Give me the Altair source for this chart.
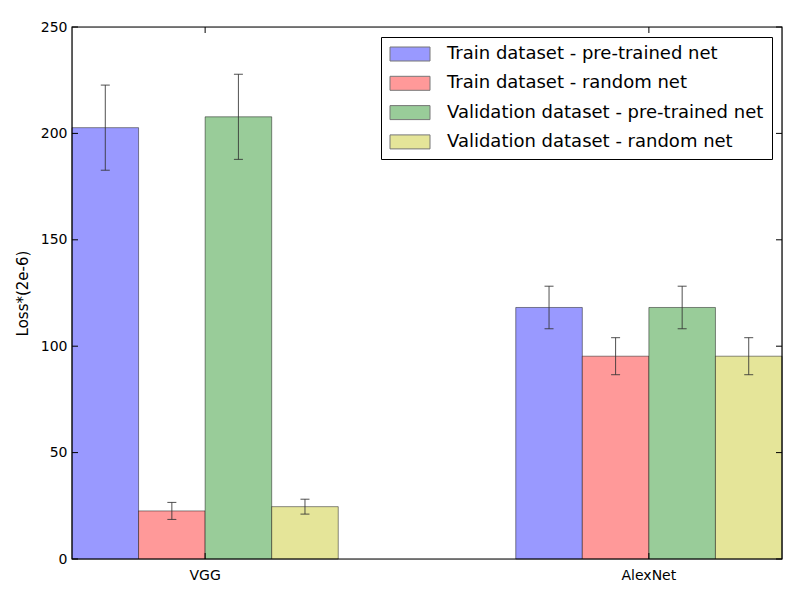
import altair as alt
import pandas as pd

models = ["VGG", "AlexNet"]
series = [
    "Train dataset - pre-trained net",
    "Train dataset - random net",
    "Validation dataset - pre-trained net",
    "Validation dataset - random net",
]
colors = ["#9999ff", "#ff9999", "#99cc99", "#e5e599"]
values = {
    series[0]: [202.7, 118.2],
    series[1]: [22.6, 95.3],
    series[2]: [207.8, 118.2],
    series[3]: [24.6, 95.3],
}
errors = {
    series[0]: [20.0, 10.0],
    series[1]: [4.0, 8.7],
    series[2]: [20.0, 10.0],
    series[3]: [3.5, 8.7],
}
y_ticks = [0, 50, 100, 150, 200, 250]

rows = []
for s in series:
    for i, m in enumerate(models):
        v = values[s][i]
        e = errors[s][i]
        rows.append({"model": m, "series": s, "value": v, "lo": v - e, "hi": v + e})
df = pd.DataFrame(rows)
ticks_df = pd.DataFrame({"t": y_ticks})
xt_df = pd.DataFrame({"model": models})

FONT = "DejaVu Sans"
W, H = 710, 532

xscale = alt.Scale(domain=models, paddingInner=0.4, paddingOuter=0)
yscale = alt.Scale(domain=[0, 250], nice=False)
xoff = alt.XOffset("series:N", sort=series, scale=alt.Scale(domain=series, paddingInner=0, paddingOuter=0))

x_enc = alt.X("model:N", sort=models, scale=xscale,
              axis=alt.Axis(title=None, labelAngle=0, tickSize=0, domain=False,
                            labelPadding=9, labelFontSize=14, labelFont=FONT, labelColor="black"))

bars = alt.Chart(df).mark_bar(stroke="black", strokeOpacity=0.45, strokeWidth=1).encode(
    x=x_enc,
    xOffset=xoff,
    y=alt.Y("value:Q", scale=yscale,
            axis=alt.Axis(title="Loss*(2e-6)", values=y_ticks, tickSize=0, domain=False,
                          grid=False, labelPadding=5, labelFontSize=14, labelFont=FONT,
                          labelColor="black", titleFont=FONT, titleFontSize=15,
                          titleFontWeight="normal", titleColor="black", titlePadding=10)),
    color=alt.Color("series:N", sort=series,
                    scale=alt.Scale(domain=series, range=colors),
                    legend=alt.Legend(title=None, orient="top-right", offset=10,
                                      symbolType="M-1,-0.875L4,-0.875L4,0.875L-1,0.875Z",
                                      symbolSize=256, symbolStrokeColor="#777",
                                      symbolStrokeWidth=1, symbolOpacity=1,
                                      labelFont=FONT, labelFontSize=18, labelColor="black",
                                      rowPadding=11.3, labelOffset=40,
                                      padding=8, strokeColor="black", fillColor="white",
                                      cornerRadius=0, labelLimit=400)),
)

err_rule = alt.Chart(df).mark_rule(color="#333333", strokeWidth=1, opacity=0.85).encode(
    x=alt.X("model:N", sort=models, scale=xscale),
    xOffset=xoff,
    y=alt.Y("lo:Q", scale=yscale),
    y2="hi:Q",
)
cap_lo = alt.Chart(df).mark_tick(color="#333333", thickness=1, size=9, opacity=0.85).encode(
    x=alt.X("model:N", sort=models, scale=xscale),
    xOffset=xoff,
    y=alt.Y("lo:Q", scale=yscale),
)
cap_hi = alt.Chart(df).mark_tick(color="#333333", thickness=1, size=9, opacity=0.85).encode(
    x=alt.X("model:N", sort=models, scale=xscale),
    xOffset=xoff,
    y=alt.Y("hi:Q", scale=yscale),
)

ytick_l = alt.Chart(ticks_df).mark_rule(color="black", strokeWidth=1).encode(
    y=alt.Y("t:Q", scale=yscale), x=alt.value(0), x2=alt.value(6))
ytick_r = alt.Chart(ticks_df).mark_rule(color="black", strokeWidth=1).encode(
    y=alt.Y("t:Q", scale=yscale), x=alt.value(W - 6), x2=alt.value(W))
xtick_b = alt.Chart(xt_df).mark_rule(color="black", strokeWidth=1).encode(
    x=alt.X("model:N", sort=models, scale=xscale, bandPosition=0.5),
    y=alt.value(H - 6), y2=alt.value(H))
xtick_t = alt.Chart(xt_df).mark_rule(color="black", strokeWidth=1).encode(
    x=alt.X("model:N", sort=models, scale=xscale, bandPosition=0.5),
    y=alt.value(0), y2=alt.value(6))
frame = alt.Chart(xt_df.head(1)).mark_rect(fill=None, stroke="black", strokeWidth=1.2).encode(
    x=alt.value(0), x2=alt.value(W), y=alt.value(0), y2=alt.value(H))

chart = alt.layer(bars, err_rule, cap_lo, cap_hi, ytick_l, ytick_r, xtick_b, xtick_t, frame).properties(
    width=W, height=H,
    autosize=alt.AutoSizeParams(type="none"),
    padding={"left": 64, "top": 19, "right": 10, "bottom": 33},
).configure_view(stroke=None).configure(background="white")

chart.save("out.html", embed_options={"renderer": "svg", "actions": False})
